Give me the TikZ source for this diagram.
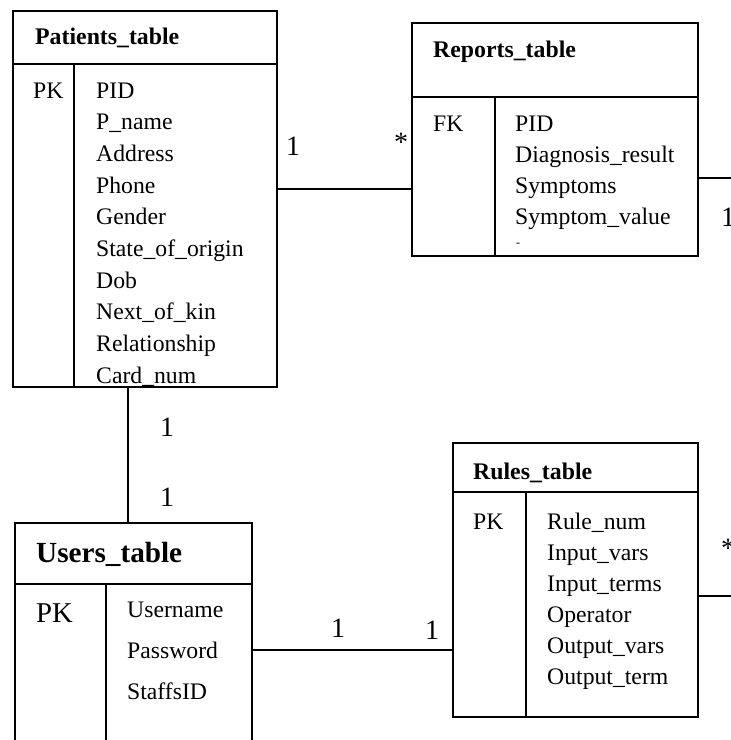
\documentclass[tikz,border=0pt]{standalone}
\usepackage{fontspec}
\setmainfont{Liberation Serif}
\tikzset{
	taula/.style={draw, line width=1.7pt, rectangle, anchor=north west, inner sep=0pt, outer sep=0pt},
	linia/.style={line width=1.7pt},
	camp/.style={anchor=base west, inner sep=0pt, font=\fontsize{23.7}{28}\selectfont},
	titol/.style={anchor=base west, inner sep=0pt, font=\fontsize{23.8}{28}\selectfont\bfseries},
	card/.style={inner sep=0pt, font=\fontsize{28}{32}\selectfont}
}
\begin{document}
\begin{tikzpicture}[x=1pt,y=-1pt]
	
	\useasboundingbox (0,0) rectangle (731,740);
	
	% Taula pacients
	\node[taula, minimum width=264pt, minimum height=376pt] (pat) at (13,11) {};
	\draw[linia] (13,64) -- (277,64);
	\draw[linia] (74,64) -- (74,387);
	\node[titol] (pattit) at (35,44) {Patients\_table};
	\node[camp] (patpk) at (33,98) {PK};
	\foreach \nom [count=\i from 0] in {PID,P\_name,Address,Phone,Gender,State\_of\_origin,Dob,Next\_of\_kin,Relationship,Card\_num}
	\node[camp] (patf\i) at (96,{98+31.7*\i}) {\nom};
	
	% Taula informes
	\node[taula, minimum width=286pt, minimum height=233pt] (rep) at (412,23) {};
	\draw[linia] (412,97) -- (698,97);
	\draw[linia] (495,97) -- (495,256);
	\node[titol] (reptit) at (433,57.5) {Reports\_table};
	\node[camp] (repfk) at (433,131.5) {FK};
	\foreach \nom [count=\i from 0] in {PID,Diagnosis\_result,Symptoms,Symptom\_value}
	\node[camp] (repf\i) at (515,{131.5+31*\i}) {\nom};
	\node[inner sep=0pt, font=\fontsize{12}{14}\selectfont] (repguio) at (518,245) {-};
	
	% Taula usuaris
	\node[taula, minimum width=237pt, minimum height=240pt] (usr) at (15,523) {};
	\draw[linia] (15,584) -- (252,584);
	\draw[linia] (106,584) -- (106,763);
	\node[titol, font=\fontsize{29.2}{34}\selectfont\bfseries] (usrtit) at (36,562) {Users\_table};
	\node[camp, font=\fontsize{28.7}{34}\selectfont] (usrpk) at (36,622.5) {PK};
	\foreach \nom [count=\i from 0] in {Username,Password,StaffsID}
	\node[camp] (usrf\i) at (127,{617.5+41*\i}) {\nom};
	
	% Taula regles
	\node[taula, minimum width=245pt, minimum height=274pt] (rul) at (453,443) {};
	\draw[linia] (453,492) -- (698,492);
	\draw[linia] (526,492) -- (526,717);
	\node[titol] (rultit) at (473,479) {Rules\_table};
	\node[camp] (rulpk) at (473,529.5) {PK};
	\foreach \nom [count=\i from 0] in {Rule\_num,Input\_vars,Input\_terms,Operator,Output\_vars,Output\_term}
	\node[camp] (rulf\i) at (547,{529.5+31*\i}) {\nom};
	
	% Relacions
	\coordinate (pr) at ([yshift=10pt]pat.east);
	\draw[linia] (pr) -- (rep.west |- pr);
	\coordinate (pu) at ([xshift=-5.5pt]usr.north);
	\draw[linia] (pat.south -| pu) -- (pu);
	\coordinate (ur) at ([yshift=-7pt]usr.east);
	\draw[linia] (ur) -- (rul.west |- ur);
	\coordinate (rdfi) at (740,178);
	\draw[linia] (rep.east |- rdfi) -- (rdfi);
	\coordinate (ldfi) at (740,596);
	\draw[linia] (rul.east |- ldfi) -- (ldfi);
	
	% Cardinalitats
	\node[card] (c1) at (293,146) {1};
	\node[card] (c2) at (401,142) {*};
	\node[card, anchor=west] (c3) at (721,217) {1};
	\node[card] (c4) at (167,427) {1};
	\node[card] (c5) at (167,497) {1};
	\node[card] (c6) at (338,628) {1};
	\node[card] (c7) at (432,630) {1};
	\node[card, anchor=west] (c8) at (721,548) {*};
	
\end{tikzpicture}
\end{document}
